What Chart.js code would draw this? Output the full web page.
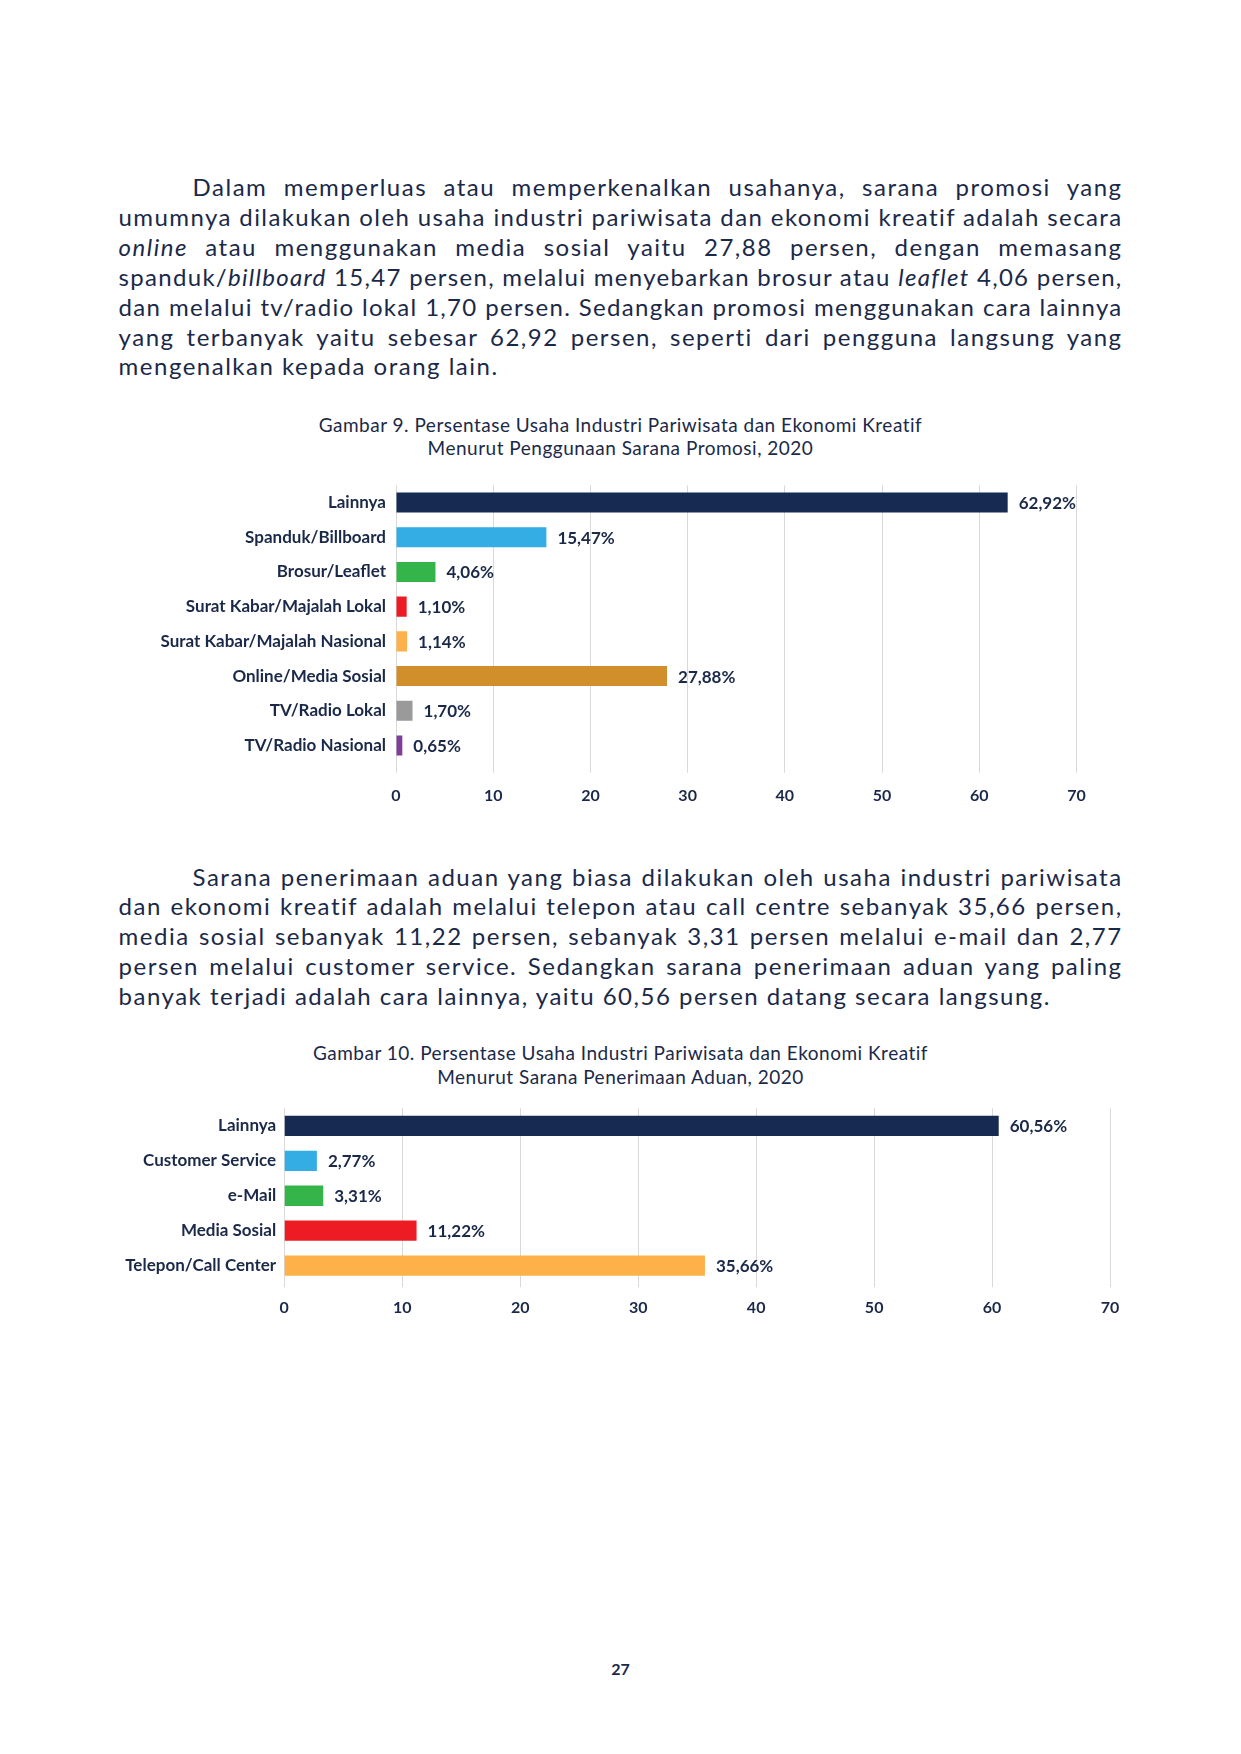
<!DOCTYPE html>
<html><head><meta charset="utf-8">
<script src="https://cdn.jsdelivr.net/npm/chart.js@4.4.1/dist/chart.umd.min.js"></script>
<style>
html,body{margin:0;padding:0;background:#fff;}
body{width:1241px;height:1754px;position:relative;overflow:hidden;font-family:Lato,sans-serif;color:#1b2949;}
.para{position:absolute;left:118.6px;width:1004px;font-size:24px;line-height:29.9px;letter-spacing:1.5px;}
.ln{text-align:justify;text-align-last:justify;}
.ln.last{text-align-last:left;}
.ln.ind{padding-left:74px;}
.cap{position:absolute;left:0;width:1241px;text-align:center;font-size:19px;line-height:22.5px;letter-spacing:0.5px;}
canvas{position:absolute;}
.pg{position:absolute;left:0;width:1241px;text-align:center;top:1659px;font-size:16px;font-weight:700;}
</style></head>
<body>
<div class="para" style="top:172px">
<div class="ln ind">Dalam memperluas atau memperkenalkan usahanya, sarana promosi yang</div>
<div class="ln">umumnya dilakukan oleh usaha industri pariwisata dan ekonomi kreatif adalah secara</div>
<div class="ln"><i>online</i> atau menggunakan media sosial yaitu 27,88 persen, dengan memasang</div>
<div class="ln">spanduk/<i>billboard</i> 15,47 persen, melalui menyebarkan brosur atau <i>leaflet</i> 4,06 persen,</div>
<div class="ln">dan melalui tv/radio lokal 1,70 persen. Sedangkan promosi menggunakan cara lainnya</div>
<div class="ln">yang terbanyak yaitu sebesar 62,92 persen, seperti dari pengguna langsung yang</div>
<div class="ln last">mengenalkan kepada orang lain.</div>
</div>
<div class="cap" style="top:414px">Gambar 9. Persentase Usaha Industri Pariwisata dan Ekonomi Kreatif<br>Menurut Penggunaan Sarana Promosi, 2020</div>
<canvas id="c1" width="1040" height="345" style="left:100px;top:470px"></canvas>

<div class="para" style="top:861.5px">
<div class="ln ind">Sarana penerimaan aduan yang biasa dilakukan oleh usaha industri pariwisata</div>
<div class="ln">dan ekonomi kreatif adalah melalui telepon atau call centre sebanyak 35,66 persen,</div>
<div class="ln">media sosial sebanyak 11,22 persen, sebanyak 3,31 persen melalui e-mail dan 2,77</div>
<div class="ln">persen melalui customer service. Sedangkan sarana penerimaan aduan yang paling</div>
<div class="ln last">banyak terjadi adalah cara lainnya, yaitu 60,56 persen datang secara langsung.</div>
</div>
<div class="cap" style="top:1041px;line-height:23.6px">Gambar 10. Persentase Usaha Industri Pariwisata dan Ekonomi Kreatif<br>Menurut Sarana Penerimaan Aduan, 2020</div>
<canvas id="c2" width="1040" height="240" style="left:100px;top:1090px"></canvas>
<div class="pg">27</div>

<script>
// ---- data ----
const promoCategories = ['Lainnya','Spanduk/Billboard','Brosur/Leaflet','Surat Kabar/Majalah Lokal','Surat Kabar/Majalah Nasional','Online/Media Sosial','TV/Radio Lokal','TV/Radio Nasional'];
const promoValues = [62.92, 15.47, 4.06, 1.10, 1.14, 27.88, 1.70, 0.65];
const promoColors = ['#172a52','#33ade3','#35b44a','#ed1c24','#fdb148','#d18f2b','#9a9a9a','#7f3f98'];

const aduanCategories = ['Lainnya','Customer Service','e-Mail','Media Sosial','Telepon/Call Center'];
const aduanValues = [60.56, 2.77, 3.31, 11.22, 35.66];
const aduanColors = ['#172a52','#33ade3','#35b44a','#ed1c24','#fdb148'];

const xMin = 0, xMax = 70, xStep = 10;

const NAVY = '#1b2949';
const FONT = 'Lato';

// keep each justified line on one line
document.querySelectorAll('.ln').forEach(el => {
  let ls = 1.5;
  while (el.offsetHeight > 40 && ls > -1) { ls -= 0.1; el.style.letterSpacing = ls + 'px'; }
});

function fmt(v){ return v.toFixed(2).replace('.', ',') + '%'; }

const valueLabels = {
  id: 'valueLabels',
  afterDatasetsDraw(chart) {
    const ctx = chart.ctx;
    const ds = chart.data.datasets[0];
    const meta = chart.getDatasetMeta(0);
    ctx.save();
    ctx.font = 'bold 17px ' + FONT;
    ctx.fillStyle = NAVY;
    ctx.textBaseline = 'middle';
    ctx.textAlign = 'left';
    meta.data.forEach((bar, i) => ctx.fillText(fmt(ds.data[i]), bar.x + 11, bar.y + 1));
    ctx.restore();
  }
};

function makeChart(id, cats, vals, colors, L) {
  const chart = new Chart(document.getElementById(id), {
    type: 'bar',
    data: { labels: cats, datasets: [{ data: vals, backgroundColor: colors, barPercentage: 0.58, categoryPercentage: 1 }] },
    plugins: [valueLabels],
    options: {
      indexAxis: 'y', responsive: false, animation: false,
      layout: { padding: { top: L.want.top, bottom: 10, left: 0, right: 1040 - L.want.right } },
      plugins: { legend: { display: false }, tooltip: { enabled: false } },
      scales: {
        x: {
          min: xMin, max: xMax,
          ticks: { stepSize: xStep, color: NAVY, font: { family: FONT, size: 16, weight: 'bold' }, padding: L.tickPad },
          grid: { color: '#d9d9d9', lineWidth: 1, drawTicks: true, tickLength: L.tickLen, tickColor: '#d9d9d9' },
          border: { display: false }
        },
        y: {
          ticks: { color: NAVY, font: { family: FONT, size: 17, weight: 'bold' }, padding: L.labelPad },
          grid: { display: false, drawTicks: false },
          border: { display: false },
          afterFit(s) { s.width = L.want.left; s.paddingTop = 0; s.paddingBottom = 0; }
        }
      }
    }
  });
  // calibrate the plot area to the intended frame
  for (let k = 0; k < 4; k++) {
    const ca = chart.chartArea;
    const p = Object.assign({}, chart.options.layout.padding);
    p.top += L.want.top - ca.top;
    p.bottom += ca.bottom - L.want.bottom;
    p.right += ca.right - L.want.right;
    chart.options.layout.padding = p;
    chart.update();
  }
  return chart;
}

document.fonts.ready.then(() => {
  makeChart('c1', promoCategories, promoValues, promoColors,
    { want: { left: 296, right: 976.5, top: 15.2, bottom: 292.8 }, tickPad: 13.3, tickLen: 10, labelPad: 10 });
  makeChart('c2', aduanCategories, aduanValues, aduanColors,
    { want: { left: 184.2, right: 1010.1, top: 18.3, bottom: 193.2 }, tickPad: 11.2, tickLen: 4, labelPad: 8 });
});
</script>
</body></html>
